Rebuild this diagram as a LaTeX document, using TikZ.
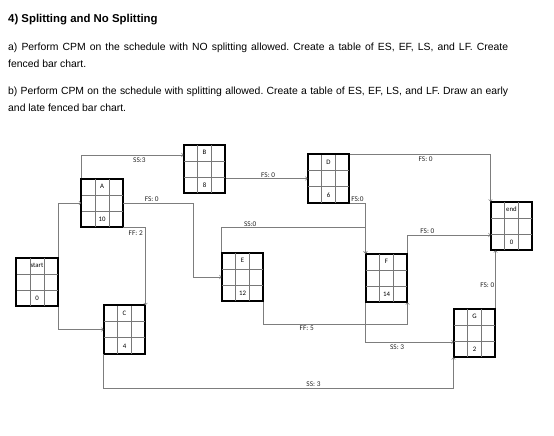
\documentclass[tikz,border=0pt]{standalone}
\usepackage{fontspec}
\setmainfont{Liberation Sans}
\newfontfamily\boxfont{Carlito}
\usetikzlibrary{arrows,calc}
\definecolor{linegray}{RGB}{125,125,125}
\definecolor{gridgray}{RGB}{120,120,120}
\tikzset{act/.style={draw=black, line width=1.1pt, minimum width=41pt, minimum height=48pt, inner sep=0pt},
	cell/.style={font=\boxfont\fontsize{6.8}{7}\selectfont, inner sep=0pt},
	lbl/.style={font=\boxfont\fontsize{7.3}{8}\selectfont, inner sep=1pt, text=black!85},
	conn/.style={draw=linegray, line width=0.6pt, ->},
	grid/.style={draw=gridgray, line width=0.5pt}
}

\begin{document}
\begin{tikzpicture}[x=1pt, y=-1pt]
	\useasboundingbox[fill=white] (0,0) rectangle (554,436);
	% text above the diagram
	\node[anchor=base west, inner sep=0pt, font=\bfseries\fontsize{11.4}{13}\selectfont] (title) at (8,22.5) {4) Splitting and No Splitting};
	\node[anchor=north west, inner sep=0pt, text width=500pt, align=justify, font=\fontsize{10.4}{17}\selectfont] (parta) at (8,42.5)
		{\frenchspacing\hyphenpenalty=10000 a) Perform CPM on the schedule with NO splitting allowed. Create a table of ES, EF, LS, and LF. Create\linebreak fenced bar chart.};
	\node[anchor=north west, inner sep=0pt, text width=500pt, align=justify, font=\fontsize{10.4}{17}\selectfont] (partb) at (8,86.5)
		{\frenchspacing\hyphenpenalty=10000 b) Perform CPM on the schedule with splitting allowed. Create a table of ES, EF, LS, and LF. Draw an early\linebreak and late fenced bar chart.};
	% activities
	\node[act] (start) at (37,282) {};
	\node[act] (A) at (102,203) {};
	\node[act] (B) at (204.5,169) {};
	\node[act] (C) at (124.5,329.5) {};
	\node[act] (D) at (328.5,178.5) {};
	\node[act] (E) at (242.5,277) {};
	\node[act] (F) at (386.5,278) {};
	\node[act] (end) at (511.5,226) {};
	\node[act] (G) at (474.5,333) {};
	\foreach \n in {start,A,B,C,D,E,F,G,end}{
		\draw[grid] ($(\n.north west)!1/3!(\n.north east)$) -- ($(\n.south west)!1/3!(\n.south east)$);
		\draw[grid] ($(\n.north west)!2/3!(\n.north east)$) -- ($(\n.south west)!2/3!(\n.south east)$);
		\draw[grid] ($(\n.north west)!1/3!(\n.south west)$) -- ($(\n.north east)!1/3!(\n.south east)$);
		\draw[grid] ($(\n.north west)!2/3!(\n.south west)$) -- ($(\n.north east)!2/3!(\n.south east)$);
		\draw[black, line width=1.1pt] (\n.north west) rectangle (\n.south east);
	}
	\node[cell] (start-top) at ([yshift=-8pt]start.north) {start};
	\node[cell] (start-dur) at ([yshift=8pt]start.south) {0};
	\node[cell] (A-top) at ([yshift=-8pt]A.north) {A};
	\node[cell] (A-dur) at ([yshift=8pt]A.south) {10};
	\node[cell] (B-top) at ([yshift=-8pt]B.north) {B};
	\node[cell] (B-dur) at ([yshift=8pt]B.south) {8};
	\node[cell] (C-top) at ([yshift=-8pt]C.north) {C};
	\node[cell] (C-dur) at ([yshift=8pt]C.south) {4};
	\node[cell] (D-top) at ([yshift=-8pt]D.north) {D};
	\node[cell] (D-dur) at ([yshift=8pt]D.south) {6};
	\node[cell] (E-top) at ([yshift=-8pt]E.north) {E};
	\node[cell] (E-dur) at ([yshift=8pt]E.south) {12};
	\node[cell] (F-top) at ([yshift=-8pt]F.north) {F};
	\node[cell] (F-dur) at ([yshift=8pt]F.south) {14};
	\node[cell] (G-top) at ([yshift=-8pt]G.north) {G};
	\node[cell] (G-dur) at ([yshift=8pt]G.south) {2};
	\node[cell] (end-top) at ([yshift=-8pt]end.north) {end};
	\node[cell] (end-dur) at ([yshift=8pt]end.south) {0};
	% links
	\draw[conn] (start.north east) |- (A.west);
	\draw[conn] (start.south east) |- (C.west);
	\draw[conn] (A.north west) |- node[lbl, below=1.5pt, pos=0.785] (lAB) {SS:3} ([yshift=14pt]B.west);
	\draw[conn] (A.east) -- ++(70,0) node[lbl, above, pos=0.41] (lAE) {FS: 0} |- (E.west);
	\draw[conn] (A.south east) -- (A.south east -| C.north east) node[lbl, below left=1.5pt] (lAC) {FF: 2} -- (C.north east);
	\draw[conn] (D.west -| B.east) -- node[lbl, above, pos=0.52] (lBD) {FS: 0} (D.west);
	\draw[conn] (D.north east) -| node[lbl, below=2pt, pos=0.27] (lDend) {FS: 0} (end.north west);
	\draw[conn] (D.south east) -- node[lbl, above] (lDF) {FS:0} (D.south east -| F.north west) -- (F.north west);
	\draw[conn] (E.north west) -- ++(0,-25) -| node[lbl, above, pos=0.1] (lEF) {SS:0} (F.north west);
	\draw[conn] (E.south east) -- ++(0,23) -| node[lbl, below, pos=0.15] (lEF2) {FF: 5} (F.south east);
	\draw[conn] (F.south west) |- node[lbl, below=1.5pt, pos=0.68] (lFG) {SS: 3} ([yshift=-9pt]G.west);
	\draw[conn] (F.north east) |- node[lbl, above, pos=0.62] (lFend) {FS: 0} ([yshift=-9pt]end.west);
	\draw[conn] (G.north east) -- node[lbl, left, pos=0.4] (lGend) {FS: 0} (G.north east |- end.south);
	\draw[conn] (C.south west) -- ++(0,34) -| node[lbl, above, pos=0.3] (lCG) {SS: 3} (G.south west);
\end{tikzpicture}
\end{document}
